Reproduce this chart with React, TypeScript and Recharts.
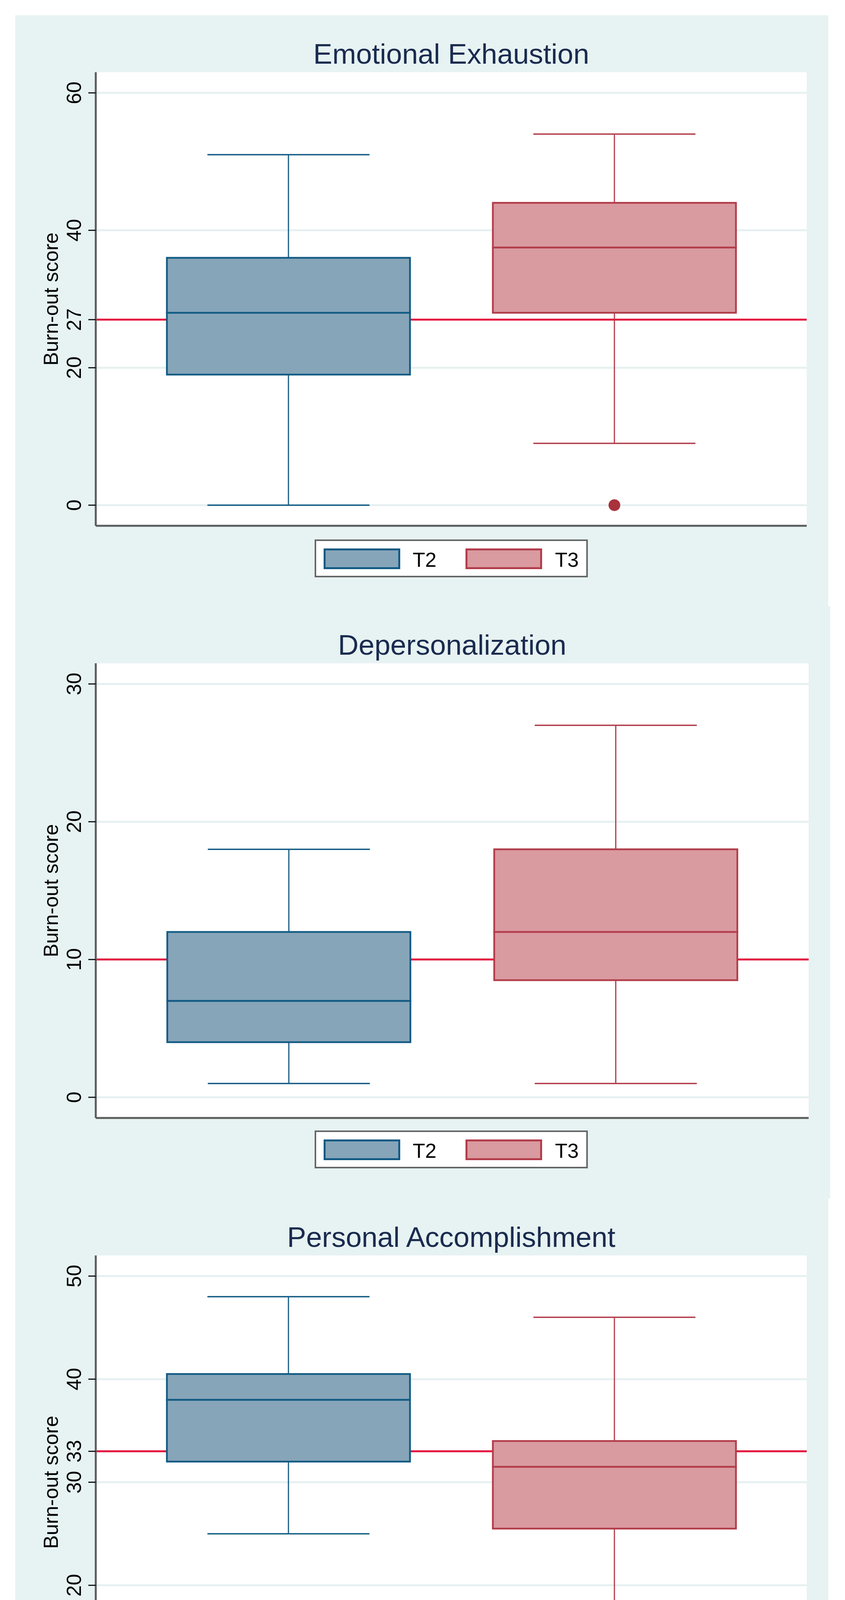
import React from "react";
import {
  Bar,
  CartesianGrid,
  ComposedChart,
  Label,
  ReferenceLine,
  Scatter,
  XAxis,
  YAxis,
} from "recharts";

const groups = ["T2", "T3"];

// Emotional Exhaustion
const eeMin = [0, 9];
const eeQ1 = [19, 28];
const eeMedian = [28, 37.5];
const eeQ3 = [36, 44];
const eeMax = [51, 54];
const eeOutliers = [{ group: "T3", value: 0 }];
const eeTicks = [0, 20, 27, 40, 60];
const eeGrid = [0, 20, 40, 60];

// Depersonalization
const dpMin = [1, 1];
const dpQ1 = [4, 8.5];
const dpMedian = [7, 12];
const dpQ3 = [12, 18];
const dpMax = [18, 27];
const dpTicks = [0, 10, 20, 30];
const dpGrid = [0, 10, 20, 30];

// Personal Accomplishment
const paMin = [25, 16];
const paQ1 = [32, 25.5];
const paMedian = [38, 31.5];
const paQ3 = [40.5, 34];
const paMax = [48, 46];
const paTicks = [10, 20, 30, 33, 40, 50];
const paGrid = [10, 20, 30, 40, 50];

const palette: Record<string, { fill: string; line: string }> = {
  T2: { fill: "#86a5b9", line: "#135b84" },
  T3: { fill: "#d99aa0", line: "#b23d4a" },
};

const FONT = "'Liberation Sans', Arial, sans-serif";
const PANEL_BG = "#e7f2f2";
const CUT_COLOR = "#e3173e";
const AXIS_COLOR = "#5c5c5c";

const M = { top: 146, right: 55, bottom: 206, left: 0 };
const AXIS_W = 206;

const RotTick = (props: any) => {
  const { x, y, payload } = props;
  return (
    <text
      transform={`translate(${x - 19},${y}) rotate(-90)`}
      textAnchor="middle"
      fontSize={52}
      fontFamily={FONT}
      fill="#000"
    >
      {payload.value}
    </text>
  );
};

const LowWhisker = (props: any) => {
  const { x, y, width, height, payload } = props;
  const c = palette[payload.group].line;
  const cx = x + width / 2;
  const half = width / 3;
  return (
    <g>
      <line x1={cx} x2={cx} y1={y} y2={y + height} stroke={c} strokeWidth={3} />
      <line x1={cx - half} x2={cx + half} y1={y + height} y2={y + height} stroke={c} strokeWidth={3.5} />
    </g>
  );
};

const HighWhisker = (props: any) => {
  const { x, y, width, height, payload } = props;
  const c = palette[payload.group].line;
  const cx = x + width / 2;
  const half = width / 3;
  return (
    <g>
      <line x1={cx} x2={cx} y1={y} y2={y + height} stroke={c} strokeWidth={3} />
      <line x1={cx - half} x2={cx + half} y1={y} y2={y} stroke={c} strokeWidth={3.5} />
    </g>
  );
};

const BoxPart = (props: any) => {
  const { x, y, width, height, payload } = props;
  const c = palette[payload.group];
  return <rect x={x} y={y} width={width} height={height} fill={c.fill} stroke={c.line} strokeWidth={4.5} />;
};

const Outlier = (props: any) => {
  const { cx, cy } = props;
  return <circle cx={cx} cy={cy} r={15} fill="#a8323c" />;
};

function Legend2() {
  return (
    <div
      style={{
        position: "absolute",
        left: 766,
        top: 1342,
        width: 699,
        height: 97,
        boxSizing: "border-box",
        background: "#fff",
        border: "4px solid #666",
        fontFamily: FONT,
      }}
    >
      {groups.map((g, i) => (
        <React.Fragment key={g}>
          <div
            style={{
              position: "absolute",
              left: 19 + i * 363,
              top: 19,
              width: 196,
              height: 53,
              boxSizing: "border-box",
              background: palette[g].fill,
              border: `5px solid ${palette[g].line}`,
            }}
          />
          <div
            style={{
              position: "absolute",
              left: 247 + i * 364,
              top: 22,
              fontSize: 52,
              lineHeight: 1,
              color: "#000",
            }}
          >
            {g}
          </div>
        </React.Fragment>
      ))}
    </div>
  );
}

type PanelProps = {
  title: string;
  top: number;
  width: number;
  height: number;
  mins: number[];
  q1s: number[];
  medians: number[];
  q3s: number[];
  maxs: number[];
  outliers?: { group: string; value: number }[];
  cutoff: number;
  domain: [number, number];
  ticks: number[];
  grid: number[];
};

function BoxPanel(p: PanelProps) {
  const rows = groups.map((g, i) => ({
    group: g,
    base: p.mins[i],
    lowW: p.q1s[i] - p.mins[i],
    lowBox: p.medians[i] - p.q1s[i],
    upBox: p.q3s[i] - p.medians[i],
    upW: p.maxs[i] - p.q3s[i],
  }));
  const plotW = p.width - AXIS_W - M.right;
  return (
    <div
      style={{
        position: "absolute",
        left: 39,
        top: p.top,
        width: p.width,
        height: p.height,
        background: PANEL_BG,
      }}
    >
      <div
        style={{
          position: "absolute",
          left: AXIS_W,
          width: plotW,
          top: 62,
          textAlign: "center",
          fontFamily: FONT,
          fontSize: 73,
          lineHeight: 1,
          color: "#1a2b4f",
        }}
      >
        {p.title}
      </div>
      <ComposedChart width={p.width} height={p.height} data={rows} margin={M} barSize={622}>
        <CartesianGrid vertical={false} horizontalValues={p.grid} stroke="#e6f0f1" strokeWidth={5} fill="#fff" />
        <XAxis
          dataKey="group"
          type="category"
          allowDuplicatedCategory={false}
          padding={{ left: 76, right: 75 }}
          height={0}
          tick={false}
          tickLine={false}
          axisLine={false}
        />
        <YAxis
          type="number"
          domain={p.domain}
          allowDataOverflow
          ticks={p.ticks}
          interval={0}
          width={AXIS_W}
          tickSize={19}
          tickMargin={0}
          tick={<RotTick />}
          tickLine={{ stroke: "#111", strokeWidth: 3 }}
          axisLine={{ stroke: AXIS_COLOR, strokeWidth: 5 }}
        >
          <Label
            content={(lp: any) => {
              const vb = lp.viewBox || { x: 0, y: M.top, height: p.height - M.top - M.bottom };
              return (
                <text
                  transform={`translate(${vb.x + 109},${vb.y + vb.height / 2}) rotate(-90)`}
                  textAnchor="middle"
                  fontSize={52}
                  fontFamily={FONT}
                  fill="#000"
                >
                  Burn-out score
                </text>
              );
            }}
          />
        </YAxis>
        <ReferenceLine y={p.cutoff} stroke={CUT_COLOR} strokeWidth={5} zIndex={-50} />
        <Bar dataKey="base" stackId="b" fill="none" shape={() => <g />} isAnimationActive={false} />
        <Bar dataKey="lowW" stackId="b" shape={<LowWhisker />} isAnimationActive={false} />
        <Bar dataKey="lowBox" stackId="b" shape={<BoxPart />} isAnimationActive={false} />
        <Bar dataKey="upBox" stackId="b" shape={<BoxPart />} isAnimationActive={false} />
        <Bar dataKey="upW" stackId="b" shape={<HighWhisker />} isAnimationActive={false} />
        {p.outliers && p.outliers.length > 0 && (
          <Scatter data={p.outliers} dataKey="value" shape={<Outlier />} isAnimationActive={false} />
        )}
        <ReferenceLine y={p.domain[0]} stroke={AXIS_COLOR} strokeWidth={5} />
      </ComposedChart>
      <Legend2 />
    </div>
  );
}

export default function App() {
  return (
    <div style={{ position: "absolute", left: 0, top: 0, width: 2162, height: 4632, background: "#fff" }}>
      <BoxPanel
        title="Emotional Exhaustion"
        top={39}
        width={2080}
        height={1513}
        mins={eeMin}
        q1s={eeQ1}
        medians={eeMedian}
        q3s={eeQ3}
        maxs={eeMax}
        outliers={eeOutliers}
        cutoff={27}
        domain={[-3, 63]}
        ticks={eeTicks}
        grid={eeGrid}
      />
      <BoxPanel
        title="Depersonalization"
        top={1552}
        width={2085}
        height={1516}
        mins={dpMin}
        q1s={dpQ1}
        medians={dpMedian}
        q3s={dpQ3}
        maxs={dpMax}
        cutoff={10}
        domain={[-1.5, 31.5]}
        ticks={dpTicks}
        grid={dpGrid}
      />
      <BoxPanel
        title="Personal Accomplishment"
        top={3068}
        width={2080}
        height={1513}
        mins={paMin}
        q1s={paQ1}
        medians={paMedian}
        q3s={paQ3}
        maxs={paMax}
        cutoff={33}
        domain={[8, 52]}
        ticks={paTicks}
        grid={paGrid}
      />
    </div>
  );
}
